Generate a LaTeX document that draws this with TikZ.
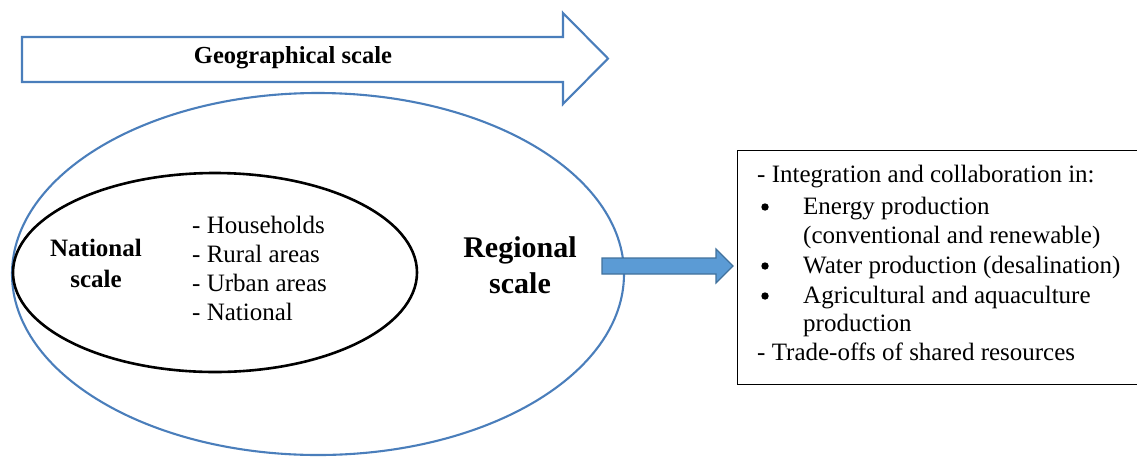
\documentclass[tikz,border=0pt]{standalone}
\usepackage{fontspec}
\setmainfont{Liberation Serif}
\begin{document}
\begin{tikzpicture}[x=1pt,y=-1pt,
  txt/.style={font=\fontsize{25}{29}\selectfont, inner sep=0pt},
  boldtxt/.style={font=\fontsize{25}{31}\selectfont\bfseries, inner sep=0pt, align=center},
  blueline/.style={draw=outline, line width=2.1pt},
]
\definecolor{outline}{HTML}{4A7EBB}
\definecolor{arrowfill}{HTML}{5B9BD5}
\definecolor{arrowline}{HTML}{41719C}
\useasboundingbox (0,0) rectangle (1137,456);

% geographical scale arrow
\draw[blueline, line join=miter]
  (22,37) -- (563,37) -- (563,13) -- (608,58.5) -- (563,104) -- (563,82) -- (22,82) -- cycle;
\node[font=\fontsize{24.5}{29}\selectfont\bfseries, inner sep=0pt] (geo) at (293,58) {Geographical scale};

% regional and national ellipses
\draw[blueline] (318,274) ellipse [x radius=306, y radius=181];
\draw[black, line width=2.6pt] (215,272.5) ellipse [x radius=202, y radius=99.5];

\node[boldtxt] (national) at (96,263) {National\\scale};
\node[txt, anchor=base west] (l1) at (192,233) {- Households};
\node[txt, anchor=base west] (l2) at (192,262) {- Rural areas};
\node[txt, anchor=base west] (l3) at (192,291) {- Urban areas};
\node[txt, anchor=base west] (l4) at (192,320) {- National};
\node[font=\fontsize{30}{36}\selectfont\bfseries, inner sep=0pt, align=center] (regional) at (520,265) {Regional\\scale};

% regional outcomes box
\node[draw=black, line width=0.9pt, minimum width=400pt, minimum height=234pt, anchor=north west, inner sep=0pt] (box) at (737,150) {};
\node[txt, anchor=base west] (b1) at (757,182) {- Integration and collaboration in:};
\node[txt, anchor=base west] (b2) at (803,214) {Energy production};
\node[txt, anchor=base west] (b3) at (803,243) {(conventional and renewable)};
\node[txt, anchor=base west] (b4) at (803,273) {Water production (desalination)};
\node[txt, anchor=base west] (b5) at (803,303) {Agricultural and aquaculture};
\node[txt, anchor=base west] (b6) at (803,331) {production};
\node[txt, anchor=base west] (b7) at (757,360) {- Trade-offs of shared resources};
\foreach \y in {207,266,296} \fill[black] (765,\y) circle (3.7pt);

% block arrow from the regional ellipse towards the box
\draw[fill=arrowfill, draw=arrowline, line width=1.2pt, line join=miter]
  (602,258) -- (716,258) -- (716,249) -- (733,266) -- (716,283) -- (716,274) -- (602,274) -- cycle;
\end{tikzpicture}
\end{document}
